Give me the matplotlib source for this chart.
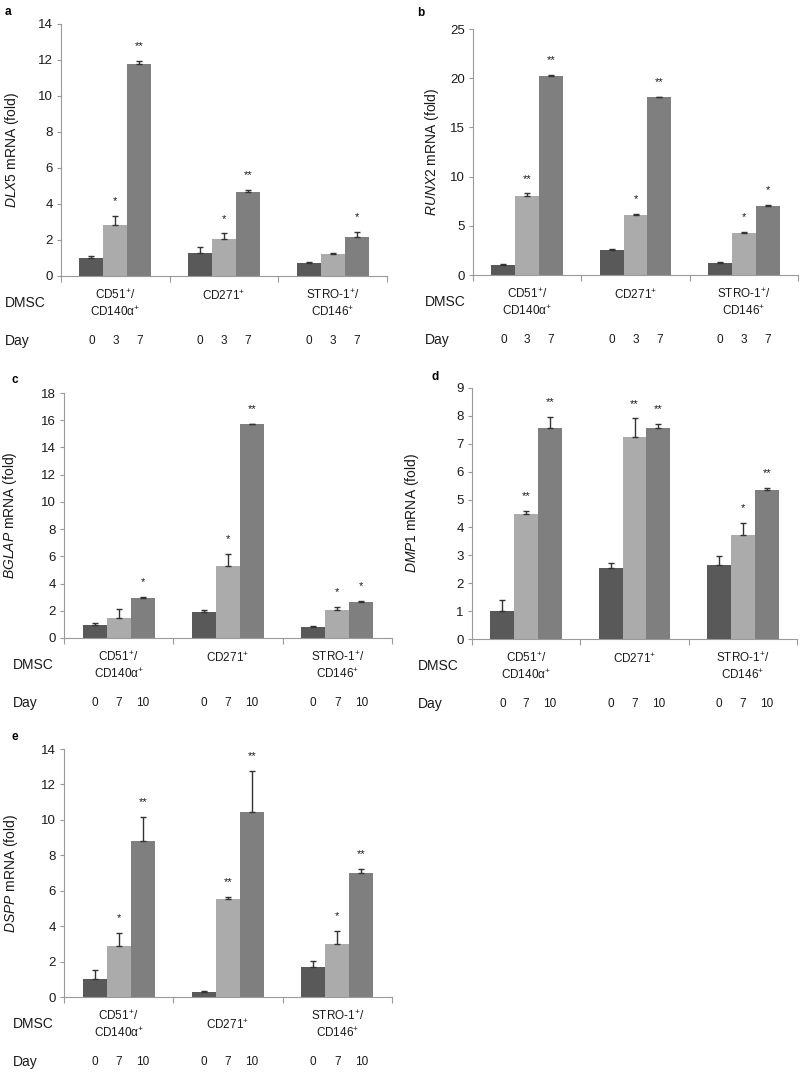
import numpy as np
import matplotlib
matplotlib.use('Agg')
from matplotlib import pyplot as plt

plt.rcParams['font.family'] = ['Liberation Sans', 'DejaVu Sans']
plt.rcParams['mathtext.fontset'] = 'custom'
plt.rcParams['mathtext.rm'] = 'Liberation Sans'
plt.rcParams['mathtext.it'] = 'Liberation Sans:italic'

# data
groups = ['CD51$^{+}$/\nCD140α$^{+}$', 'CD271$^{+}$', 'STRO-1$^{+}$/\nCD146$^{+}$']
genes = ['DLX5', 'RUNX2', 'BGLAP', 'DMP1', 'DSPP']
letters = ['a', 'b', 'c', 'd', 'e']
days_ab = ['0', '3', '7']
days_cde = ['0', '7', '10']

dlx5 = [[1.0, 2.82, 11.8], [1.3, 2.04, 4.65], [0.75, 1.25, 2.15]]
dlx5_err = [[0.12, 0.52, 0.15], [0.3, 0.33, 0.15], [0.05, 0.05, 0.28]]
dlx5_sig = [['', '*', '**'], ['', '*', '**'], ['', '', '*']]

runx2 = [[1.02, 8.0, 20.25], [2.57, 6.05, 18.05], [1.25, 4.3, 7.05]]
runx2_err = [[0.07, 0.3, 0.1], [0.1, 0.17, 0.07], [0.1, 0.1, 0.1]]
runx2_sig = [['', '**', '**'], ['', '*', '**'], ['', '*', '*']]

bglap = [[0.98, 1.5, 2.97], [1.92, 5.3, 15.7], [0.81, 2.06, 2.65]]
bglap_err = [[0.15, 0.66, 0.05], [0.17, 0.9, 0.05], [0.1, 0.22, 0.07]]
bglap_sig = [['', '', '*'], ['', '*', '**'], ['', '*', '*']]

dmp1 = [[1.0, 4.47, 7.55], [2.53, 7.23, 7.58], [2.67, 3.72, 5.33]]
dmp1_err = [[0.41, 0.12, 0.4], [0.19, 0.68, 0.12], [0.31, 0.45, 0.08]]
dmp1_sig = [['', '**', '**'], ['', '**', '**'], ['', '*', '**']]

dspp = [[1.0, 2.9, 8.8], [0.3, 5.55, 10.45], [1.7, 3.0, 7.0]]
dspp_err = [[0.5, 0.72, 1.35], [0.04, 0.1, 2.3], [0.33, 0.75, 0.22]]
dspp_sig = [['', '*', '**'], ['', '**', '**'], ['', '*', '**']]

values = [dlx5, runx2, bglap, dmp1, dspp]
errors = [dlx5_err, runx2_err, bglap_err, dmp1_err, dspp_err]
sigs = [dlx5_sig, runx2_sig, bglap_sig, dmp1_sig, dspp_sig]
days = [days_ab, days_ab, days_cde, days_cde, days_cde]
ymax = [14, 25, 18, 9, 14]
ystep = [2, 5, 2, 1, 2]

colors = ['#595959', '#ababab', '#7f7f7f']
W, H = 800, 1072
# axes boxes in pixels: left, top, right, bottom
boxes = [(61, 24, 387, 276), (473, 29, 798, 275), (64, 393, 392, 638),
         (472, 388, 797, 639), (64, 749, 392, 997)]
ylab_x = [21, 441, 19, 421, 20]
row_x = [5, 425, 13, 418, 13]
letter_pos = [(5, 12), (417, 13), (12, 380), (432, 377), (12, 737)]
center_single = [False, False, False, False, True]

fig = plt.figure(figsize=(W / 100, H / 100), dpi=100)
bw = 0.22
txt = '#1a1a1a'

for k in range(5):
    l, t, r, b = boxes[k]
    ax = fig.add_axes([l / W, 1 - b / H, (r - l) / W, (b - t) / H])
    vals = np.array(values[k])
    errs = np.array(errors[k])
    for j in range(3):
        xs = np.arange(3) + (j - 1) * bw
        ax.bar(xs, vals[:, j], width=bw, color=colors[j], edgecolor='none', zorder=2)
        ax.errorbar(xs, vals[:, j], yerr=[np.zeros(3), errs[:, j]], fmt='none',
                    ecolor='#333333', elinewidth=1, capsize=2.5, capthick=1, zorder=3)
        for i in range(3):
            s = sigs[k][i][j]
            if s:
                ax.annotate(s, (xs[i], vals[i, j] + errs[i, j]), xytext=(0, 7),
                            textcoords='offset points', ha='center', va='bottom',
                            fontsize=8, color=txt)
            ax.annotate(days[k][j], (xs[i], 0), xycoords=('data', 'axes fraction'),
                        xytext=(0, -47), textcoords='offset points', ha='center',
                        va='center', fontsize=8.5, color=txt)
    for i in range(3):
        multi = '\n' in groups[i]
        if center_single[k] or multi:
            ax.annotate(groups[i], (i, 0), xycoords=('data', 'axes fraction'),
                        xytext=(0, -20), textcoords='offset points', ha='center',
                        va='center', fontsize=8.5, color=txt, linespacing=1.25)
        else:
            ax.annotate(groups[i], (i, 0), xycoords=('data', 'axes fraction'),
                        xytext=(0, -14.5), textcoords='offset points', ha='center',
                        va='center', fontsize=8.5, color=txt)
    ax.set_xlim(-0.5, 2.5)
    ax.set_ylim(0, ymax[k])
    ax.set_yticks(np.arange(0, ymax[k] + 1, ystep[k]))
    ax.set_xticks([-0.5, 0.5, 1.5, 2.5])
    ax.set_xticklabels([])
    ax.tick_params(axis='x', direction='out', length=4, color='#9a9a9a', width=0.8)
    ax.tick_params(axis='y', direction='out', length=3, color='#9a9a9a', width=0.8,
                   labelsize=9.5, labelcolor=txt, pad=3)
    for side in ['top', 'right']:
        ax.spines[side].set_visible(False)
    for side in ['left', 'bottom']:
        ax.spines[side].set_color('#9a9a9a')
        ax.spines[side].set_linewidth(0.8)
    ax.set_ylabel('$\\it{' + genes[k] + '}$ mRNA (fold)', fontsize=10, color=txt)
    ax.yaxis.set_label_coords((ylab_x[k] - l) / (r - l), 0.5)
    fig.text(row_x[k] / W, 1 - (b + 27) / H, 'DMSC', fontsize=10, color=txt,
             ha='left', va='center')
    fig.text(row_x[k] / W, 1 - (b + 65) / H, 'Day', fontsize=10, color=txt,
             ha='left', va='center')
    fig.text(letter_pos[k][0] / W, 1 - letter_pos[k][1] / H, letters[k],
             fontsize=8.5, fontweight='bold', ha='left', va='center')

fig.savefig('out.png', dpi=100, facecolor='white')
